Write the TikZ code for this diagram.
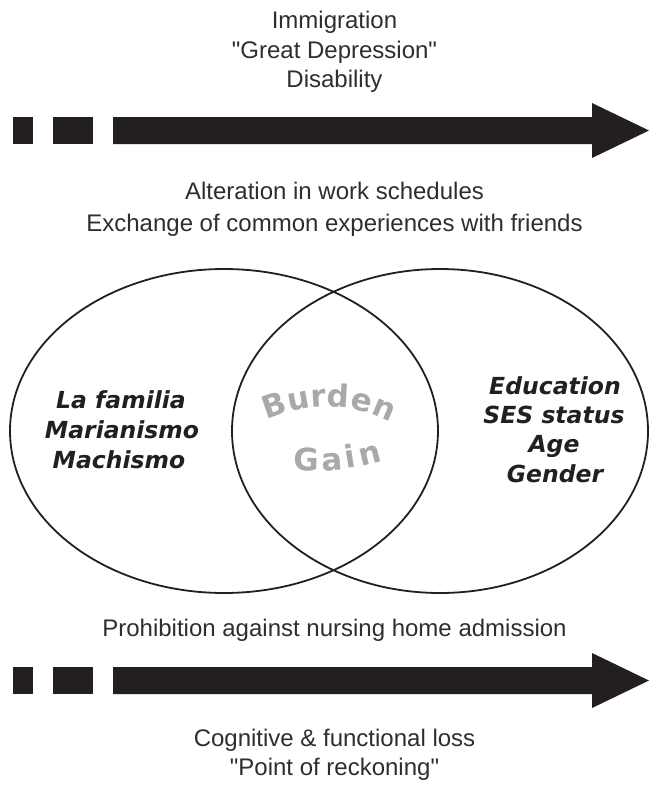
\documentclass[tikz,border=0pt]{standalone}
\usepackage{fontspec}
\setmainfont{Liberation Sans}
\newfontfamily\heavyfont{DejaVu Sans}
\usetikzlibrary{shapes.geometric}
\definecolor{ink}{HTML}{231F20}
\definecolor{txt}{HTML}{2E2E2E}
\definecolor{faded}{HTML}{A7A9AC}

\begin{document}
\begin{tikzpicture}[x=1pt,y=-1pt,
  label/.style={font=\fontsize{24}{24}\selectfont, text=txt, anchor=base, inner sep=0pt},
  factor/.style={font=\heavyfont\fontsize{23.5}{23.5}\selectfont\bfseries\itshape, text=ink,
      anchor=base, inner sep=0pt},
  setshape/.style={ellipse, draw=ink, line width=1.8pt, inner sep=0pt},
  glyph/.style={font=\heavyfont\fontsize{31}{31}\selectfont\bfseries, text=faded, anchor=base,
      inner sep=0pt, rotate=#1},
  pics/timeline/.style={code={
      \fill[ink] (13,-13.5) rectangle (33,13.5);
      \fill[ink] (53,-13.5) rectangle (93,13.5);
      \fill[ink] (113,-13.5) -- (592,-13.5) -- (592,-27.5) -- (649,0)
                 -- (592,27.5) -- (592,13.5) -- (113,13.5) -- cycle;
  }},
]
\fill[white] (0,0) rectangle (649,785);
\useasboundingbox (0,0) rectangle (649,785);

% upper time line and its labels
\node[label] (immig) at (334.5,28) {Immigration};
\node[label] (depr)  at (334.5,58.5) {\textquotedbl Great Depression\textquotedbl};
\node[label] (disab) at (334.5,87.5) {Disability};
\pic at (0,130.5) {timeline};
\node[label] (alter) at (334.5,199) {Alteration in work schedules};
\node[label] (exch)  at (334.5,231) {Exchange of common experiences with friends};

% the two overlapping sets
\node[setshape, minimum width=428pt, minimum height=324pt] (culture) at (224,431) {};
\node[setshape, minimum width=416pt, minimum height=324pt] (demo) at (440,431) {};

\node[factor] (fam)  at (121,408) {La familia};
\node[factor] (mari) at (122,438) {Marianismo};
\node[factor] (mach) at (119,468) {Machismo};

\node[factor] (edu)  at (555,394) {Education};
\node[factor] (ses)  at (554,423) {SES status};
\node[factor] (age)  at (554,452) {Age};
\node[factor] (gend) at (555,482) {Gender};

% overlap: "Burden" arched over "Gain", one letter at a time
\node[glyph=19.1]  (bB) at (278.0,415.6) {B};
\node[glyph=10.6]  (bu) at (300.3,409.7) {u};
\node[glyph=3.7]   (br) at (319.0,407.3) {r};
\node[glyph=-3.3]  (bd) at (338.0,407.3) {d};
\node[glyph=-13.0] (be) at (359.6,411.0) {e};
\node[glyph=-23.0] (bn) at (380.6,417.8) {n};

\node[glyph=-1.4] (gG) at (305.8,471.0) {G};
\node[glyph=4.7]  (ga) at (332.6,470.2) {a};
\node[glyph=9.2]  (gi) at (351.9,467.8) {i};
\node[glyph=13.8] (gn) at (371.9,463.7) {n};

% lower time line and its labels
\node[label] (prohib) at (334.5,636) {Prohibition against nursing home admission};
\pic at (0,680.5) {timeline};
\node[label] (cogn)  at (334.5,746) {Cognitive \& functional loss};
\node[label] (reck)  at (334.5,775) {\textquotedbl Point of reckoning\textquotedbl};
\end{tikzpicture}
\end{document}
